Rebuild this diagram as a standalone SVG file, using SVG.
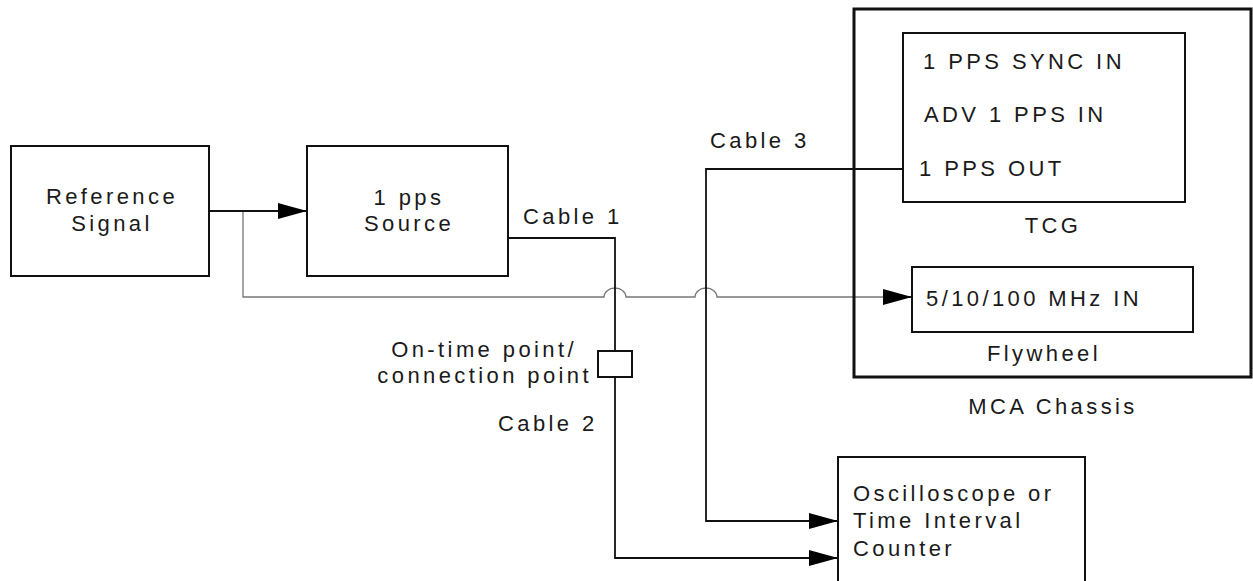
<svg xmlns="http://www.w3.org/2000/svg" width="1253" height="581" viewBox="0 0 1253 581">
<style>
text{font-family:"Liberation Sans",Arial,sans-serif;font-size:22px;letter-spacing:3.4px;fill:#1a1a1a}
.box{fill:#fff;stroke:#111;stroke-width:2}
.wire{fill:none;stroke:#111;stroke-width:1.8}
.gray{fill:none;stroke:#777;stroke-width:1.3}
.m{text-anchor:middle}
</style>
<defs>
<marker id="arr" markerUnits="userSpaceOnUse" markerWidth="30" markerHeight="18" refX="29" refY="8" orient="auto">
<path d="M0,0 L29,8 L0,16 Z" fill="#000"/>
</marker>
</defs>
<rect width="1253" height="581" fill="#fff"/>
<g id="connectors">
<path class="gray" d="M243,211 V297 H604 A11,9 0 0 1 626,297 H695 A11,9 0 0 1 717,297 H884"/>
<path class="wire" d="M884,297 H912" marker-end="url(#arr)"/>
<path class="wire" d="M209,211 H307" marker-end="url(#arr)"/>
<path class="wire" d="M508,238 H615 V558 H838" marker-end="url(#arr)"/>
<path class="wire" d="M903,169 H706 V521 H838" marker-end="url(#arr)"/>
<text x="523" y="224">Cable 1</text>
<text x="498" y="431">Cable 2</text>
<text x="710" y="148">Cable 3</text>
</g>
<g id="reference-signal">
<rect class="box" x="11" y="146" width="198" height="130"/>
<text class="m" x="112" y="204">Reference</text>
<text class="m" x="112" y="231">Signal</text>
</g>
<g id="pps-source">
<rect class="box" x="307" y="146" width="201" height="130"/>
<text class="m" x="409" y="205">1 pps</text>
<text class="m" x="409" y="231">Source</text>
</g>
<g id="connection-point">
<rect class="box" x="598" y="351" width="34" height="26"/>
<text x="577" y="357" text-anchor="end">On-time point/</text>
<text x="592" y="383" text-anchor="end">connection point</text>
</g>
<g id="mca-chassis">
<rect x="854" y="9" width="397" height="368" fill="none" stroke="#111" stroke-width="3"/>
<text class="m" x="1053" y="414">MCA Chassis</text>
</g>
<g id="tcg">
<rect class="box" x="903" y="33" width="282" height="169"/>
<text x="923" y="69">1 PPS SYNC IN</text>
<text x="924" y="122">ADV 1 PPS IN</text>
<text x="919" y="176">1 PPS OUT</text>
<text class="m" x="1053" y="233">TCG</text>
</g>
<g id="flywheel">
<rect class="box" x="912" y="267" width="281" height="65"/>
<text x="926" y="306">5/10/100 MHz IN</text>
<text class="m" x="1044" y="361">Flywheel</text>
</g>
<g id="oscilloscope">
<rect class="box" x="838" y="457" width="247" height="140"/>
<text x="853" y="501">Oscilloscope or</text>
<text x="853" y="528">Time Interval</text>
<text x="853" y="556">Counter</text>
</g>
</svg>
